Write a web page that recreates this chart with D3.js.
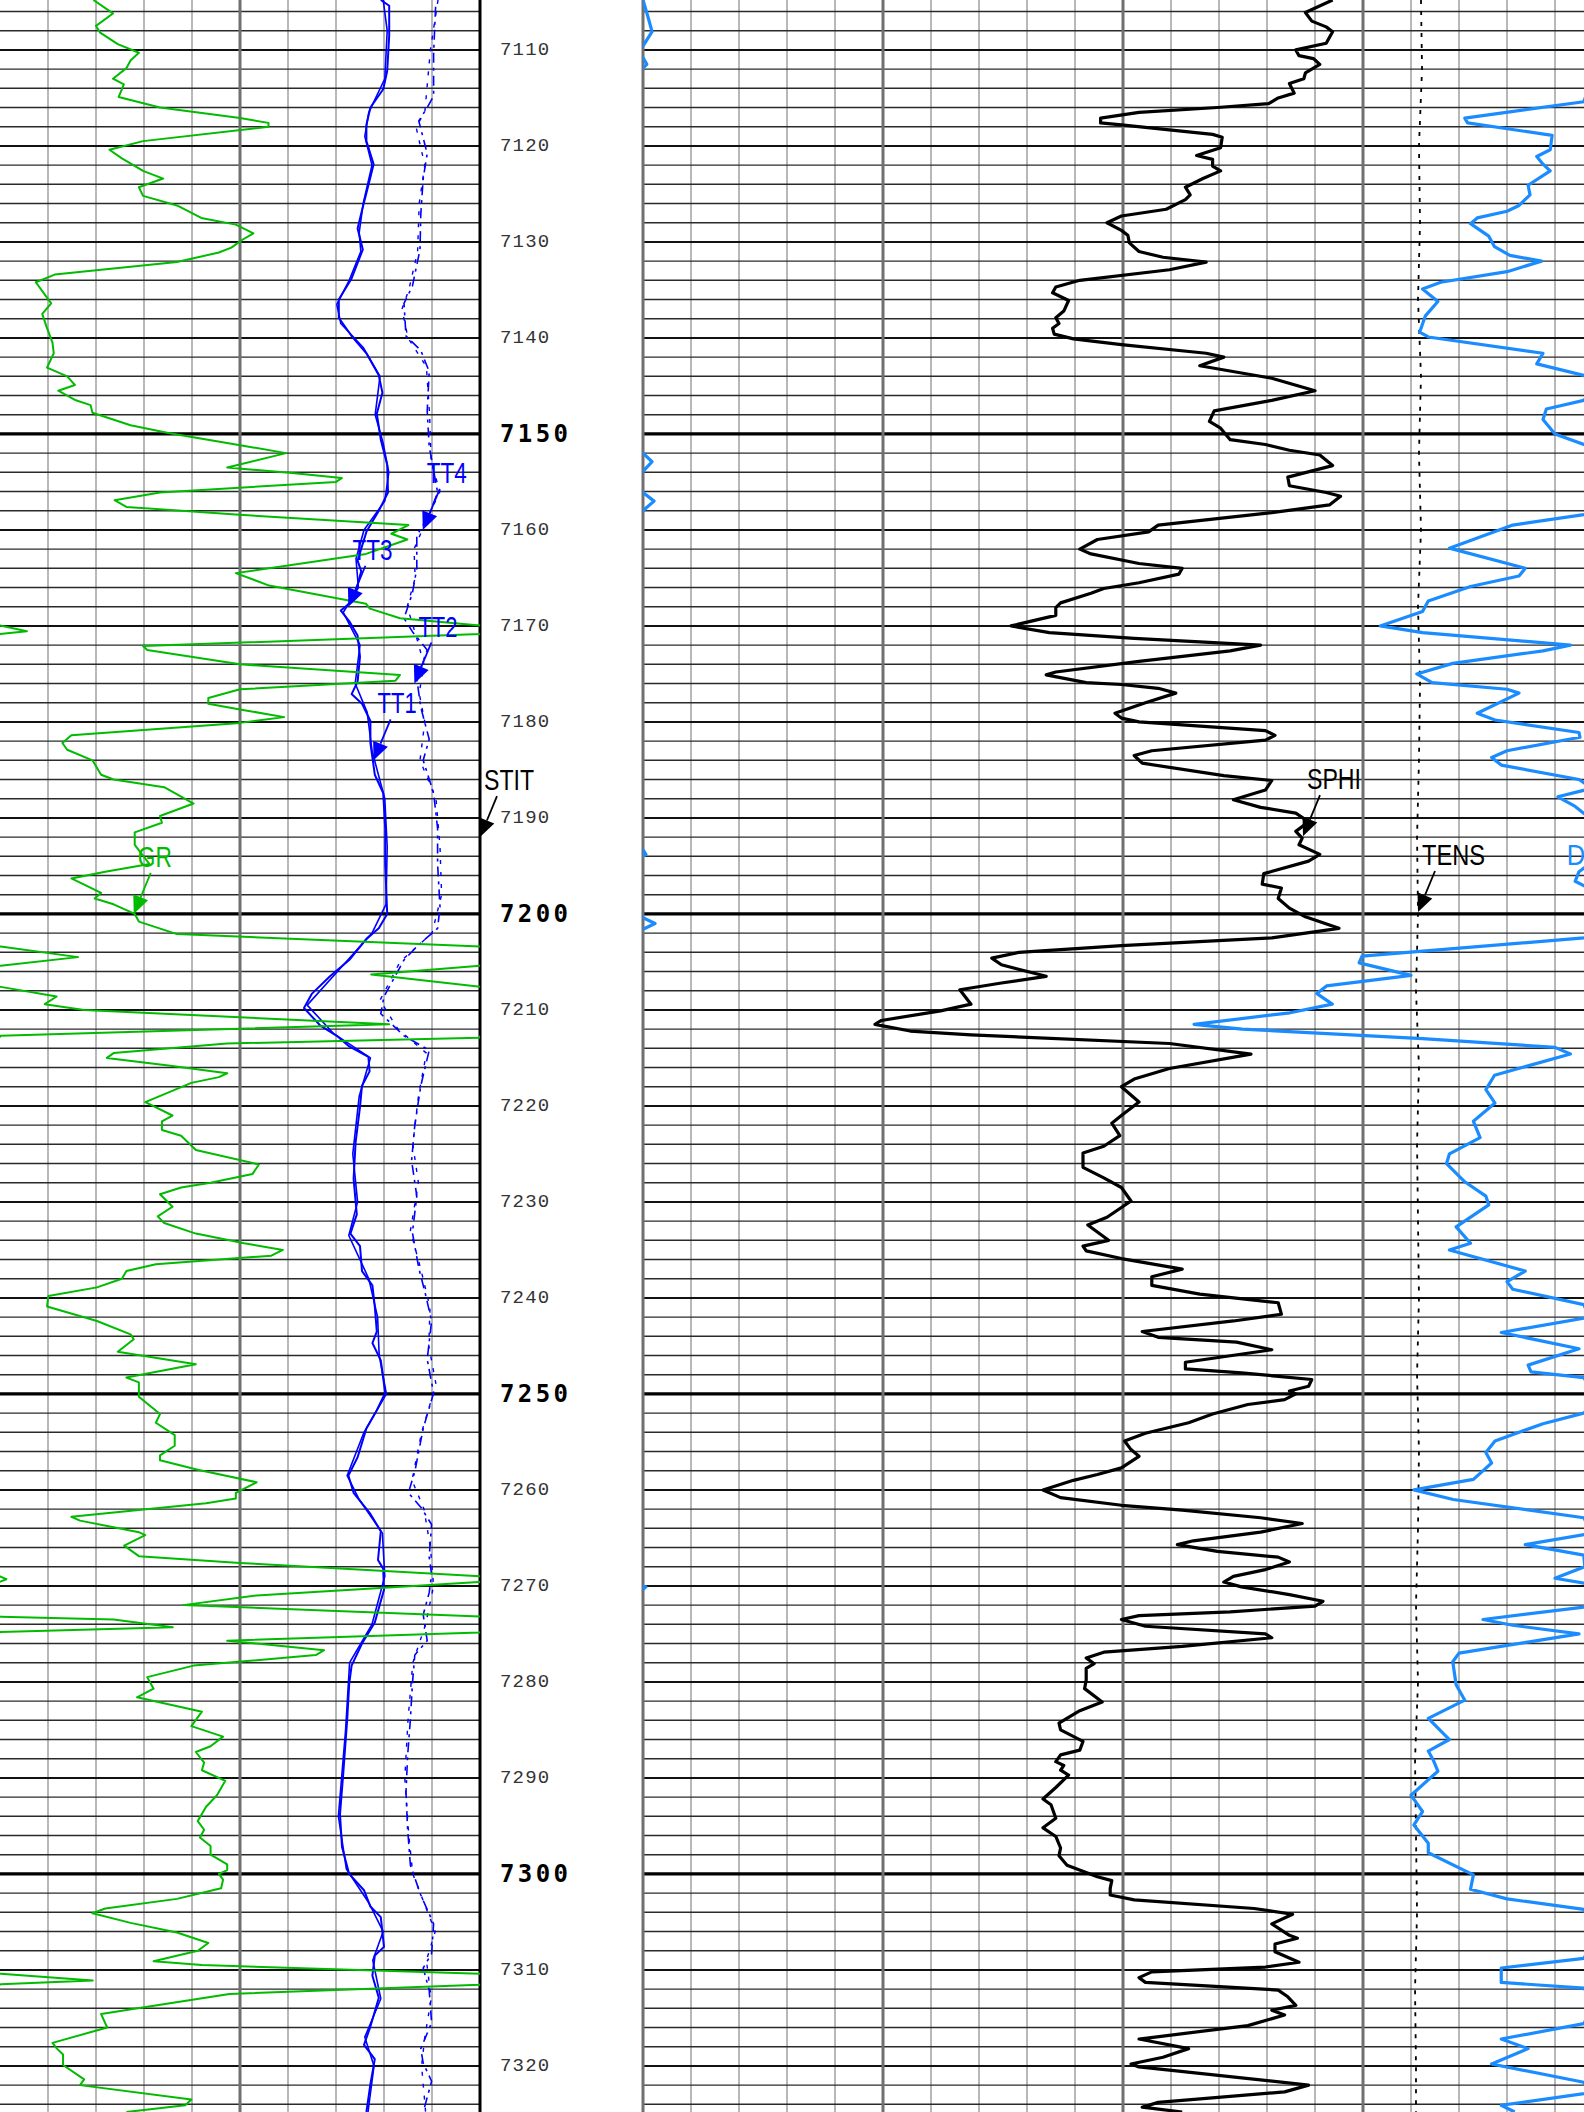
<!DOCTYPE html>
<html>
<head>
<meta charset="utf-8">
<script src="https://cdn.jsdelivr.net/npm/d3@7"></script>
<style>
html,body{margin:0;padding:0;background:#fff;}
svg{display:block;}
</style>
</head>
<body>
<svg id="chart" width="1584" height="2112"></svg>
<script>
// ---------------- DATA ----------------
const DEPTH_RANGE = [7104.8, 7324.8];
const DEPTH_LABELS = d3.range(7110, 7321, 10);

// Gamma ray (API), track 1, scale 0-150 with 150-300 backup
const GR = [[7104.8,29.2],[7106.2,35.3],[7107.5,30.0],[7108.2,31.3],[7109.4,36.8],[7110.3,43.4],[7111.1,40.8],[7111.9,39.5],[7113.0,35.3],[7113.6,38.7],[7114.9,37.1],[7116.0,50.0],[7117.1,75.0],[7117.6,83.9],[7118.0,83.9],[7119.5,44.7],[7120.4,34.2],[7121.3,38.1],[7122.6,44.7],[7123.4,51.0],[7124.3,43.4],[7125.2,44.7],[7126.2,55.3],[7127.5,62.9],[7128.2,73.7],[7129.1,79.2],[7129.8,75.6],[7130.6,72.3],[7131.1,68.4],[7132.1,55.3],[7133.4,17.1],[7134.2,11.2],[7136.4,16.0],[7137.5,13.2],[7138.8,14.5],[7140.5,16.4],[7141.6,16.8],[7143.1,14.7],[7144.0,21.0],[7144.9,23.4],[7145.5,18.2],[7146.5,23.7],[7147.0,28.3],[7147.8,28.9],[7149.1,40.8],[7149.9,52.6],[7151.1,73.7],[7152.0,89.4],[7153.5,71.0],[7154.1,92.1],[7154.6,106.8],[7155.0,105.0],[7156.1,50.0],[7156.9,35.8],[7157.6,39.5],[7158.4,73.7],[7159.5,127.6],[7160.4,122.3],[7161.0,127.3],[7162.5,114.4],[7164.5,73.7],[7165.8,84.1],[7167.7,114.4],[7168.2,115.6],[7169.2,125.0],[7169.95,150.0],[7170.55,158.4],[7170.85,150.0],[7172.1,44.7],[7172.5,46.0],[7174.0,75.0],[7175.1,125.0],[7175.7,123.6],[7176.6,75.0],[7177.5,65.1],[7178.1,65.1],[7178.7,75.0],[7179.5,88.8],[7180.1,75.0],[7181.4,22.3],[7182.2,19.5],[7182.9,21.0],[7184.0,28.9],[7185.5,31.6],[7186.0,35.5],[7186.8,51.3],[7188.5,60.5],[7189.8,50.0],[7190.5,50.6],[7191.5,42.1],[7192.8,42.1],[7194.8,46.7],[7195.6,32.9],[7196.3,22.3],[7197.8,31.6],[7198.4,29.6],[7199.0,35.5],[7200.0,42.1],[7200.8,43.4],[7202.1,55.3],[7203.4,150.2],[7204.5,174.4],[7205.4,150.2],[7206.3,116.0],[7207.6,150.2],[7208.6,167.7],[7209.4,164.0],[7210.0,176.3],[7211.5,271.6],[7212.7,150.2],[7212.9,149.7],[7213.5,70.9],[7214.5,35.5],[7215.0,33.4],[7215.8,52.6],[7216.6,71.0],[7217.0,68.4],[7217.6,59.8],[7219.6,45.4],[7221.0,53.9],[7221.6,50.6],[7222.5,50.6],[7223.1,56.6],[7224.6,61.2],[7226.1,80.9],[7227.1,78.9],[7228.0,65.8],[7228.5,56.6],[7229.2,50.0],[7230.5,53.9],[7231.5,49.3],[7232.2,51.3],[7233.3,61.2],[7234.3,76.3],[7235.0,88.4],[7235.6,84.8],[7236.5,48.7],[7237.2,39.5],[7238.0,38.1],[7238.9,30.3],[7239.8,15.1],[7240.9,14.7],[7242.4,30.3],[7243.8,40.8],[7244.3,41.8],[7245.6,36.8],[7246.9,61.2],[7248.3,39.5],[7248.8,43.4],[7250.3,43.4],[7252.1,50.0],[7253.0,48.7],[7254.3,54.6],[7255.4,54.6],[7256.4,50.0],[7256.9,50.0],[7257.9,61.8],[7259.2,80.2],[7260.3,73.7],[7260.9,73.7],[7261.4,64.4],[7262.8,22.3],[7263.2,25.0],[7264.4,43.4],[7264.7,45.4],[7265.8,38.8],[7266.9,43.4],[7267.6,75.0],[7269.0,150.0],[7269.3,152.0],[7269.6,149.7],[7271.0,80.2],[7272.0,57.2],[7272.6,105.2],[7273.2,150.2],[7273.5,185.5],[7274.3,204.0],[7274.8,150.2],[7274.85,149.8],[7275.7,71.0],[7276.7,101.3],[7277.2,98.7],[7278.3,60.5],[7279.5,46.0],[7280.7,48.0],[7281.6,42.8],[7283.1,63.1],[7284.6,59.8],[7285.7,69.7],[7286.7,65.8],[7287.3,61.2],[7288.4,63.8],[7289.2,63.1],[7290.3,70.4],[7291.8,67.8],[7293.0,64.4],[7294.5,61.8],[7295.4,63.8],[7296.2,62.5],[7297.1,65.8],[7298.0,65.8],[7299.0,71.0],[7299.6,71.0],[7300.0,68.4],[7300.6,69.7],[7301.5,69.1],[7302.6,55.3],[7303.6,32.9],[7304.1,28.9],[7305.1,40.8],[7306.1,55.3],[7307.2,65.1],[7308.0,61.8],[7309.1,48.0],[7309.5,63.1],[7310.4,150.2],[7311.1,179.0],[7311.5,150.2],[7311.55,149.8],[7312.5,71.7],[7313.5,52.6],[7314.6,31.6],[7316.0,33.5],[7317.6,16.4],[7318.2,17.8],[7318.8,19.7],[7319.9,19.7],[7321.4,26.3],[7322.0,25.0],[7323.5,59.8],[7324.1,57.9],[7324.8,39.5]];

// Transit times (us), track 1, scale 0-1200
const TT1 = [[7104.8,952],[7105.4,973],[7108.5,973],[7112.2,968],[7114.1,958],[7116.0,926],[7117.8,916],[7119.5,916],[7121.9,934],[7124.1,921],[7126.7,905],[7128.6,894],[7130.8,907],[7133.8,879],[7136.0,847],[7137.9,847],[7139.8,879],[7141.6,916],[7143.9,947],[7145.7,956],[7147.9,942],[7150.6,952],[7153.2,968],[7156.1,970],[7158.0,947],[7160.2,916],[7163.2,894],[7164.3,903],[7167.3,884],[7168.4,852],[7169.5,873],[7171.0,894],[7173.2,900],[7175.8,894],[7177.1,879],[7178.1,905],[7179.9,926],[7182.2,926],[7185.5,937],[7187.4,958],[7191.1,963],[7194.8,963],[7200.0,968],[7201.5,947],[7202.6,916],[7204.8,873],[7206.5,825],[7208.3,780],[7209.8,760],[7211.6,800],[7212.7,842],[7213.8,873],[7214.9,921],[7216.4,924],[7217.9,905],[7220.1,900],[7223.8,889],[7227.6,884],[7231.3,892],[7233.3,876],[7234.6,900],[7237.2,905],[7238.7,931],[7240.9,937],[7243.5,942],[7244.7,931],[7246.5,952],[7249.9,963],[7251.7,942],[7253.6,916],[7256.6,894],[7258.5,871],[7260.3,884],[7262.5,926],[7264.3,952],[7267.3,945],[7268.2,958],[7270.4,960],[7273.8,937],[7276.0,905],[7278.3,879],[7280.2,873],[7283.9,868],[7289.6,858],[7293.8,850],[7297.2,855],[7300.0,873],[7301.7,910],[7303.4,926],[7304.5,952],[7307.6,960],[7308.5,937],[7310.6,931],[7312.9,947],[7315.9,926],[7317.8,910],[7319.3,937],[7321.9,926],[7324.8,916]];
const TT3 = [[7104.8,958],[7108.0,968],[7113.0,962],[7116.5,922],[7119.0,912],[7122.0,930],[7126.0,908],[7129.0,898],[7131.0,902],[7134.0,873],[7136.5,842],[7138.5,852],[7141.0,908],[7144.0,950],[7148.0,938],[7151.0,958],[7154.0,972],[7157.0,962],[7160.0,910],[7163.0,890],[7166.0,896],[7168.6,858],[7172.0,900],[7176.0,888],[7179.0,918],[7183.0,930],[7188.0,962],[7193.0,968],[7199.0,965],[7202.0,930],[7205.0,865],[7209.5,768],[7212.5,835],[7215.0,926],[7219.0,898],[7225.0,882],[7230.0,894],[7233.5,872],[7238.0,922],[7242.0,944],[7246.0,948],[7250.0,966],[7254.0,910],[7258.5,868],[7261.0,898],[7264.5,956],[7269.0,962],[7274.0,930],[7278.0,874],[7285.0,864],[7294.0,846],[7299.5,866],[7303.0,922],[7306.0,958],[7309.0,932],[7313.0,952],[7317.0,912],[7320.0,935],[7324.8,920]];
const TT2 = [[7105.5,1089],[7110.4,1084],[7114.8,1084],[7116.0,1068],[7117.4,1047],[7120.8,1068],[7123.4,1058],[7127.1,1052],[7130.8,1050],[7134.6,1031],[7136.4,1010],[7139.8,1015],[7141.3,1052],[7143.5,1073],[7147.6,1068],[7151.3,1073],[7156.1,1094],[7158.4,1073],[7160.6,1042],[7164.0,1042],[7166.6,1031],[7169.2,1010],[7170.6,1031],[7172.5,1068],[7175.5,1042],[7178.5,1052],[7181.8,1073],[7184.0,1058],[7187.4,1084],[7191.1,1094],[7194.8,1094],[7199.3,1100],[7201.5,1094],[7203.4,1042],[7204.8,1010],[7208.6,960],[7210.4,952],[7212.7,1010],[7214.2,1073],[7217.9,1052],[7222.0,1037],[7225.7,1029],[7229.4,1042],[7233.2,1031],[7236.9,1047],[7239.5,1063],[7242.4,1079],[7246.4,1068],[7249.9,1084],[7253.6,1058],[7258.1,1037],[7260.3,1021],[7261.8,1052],[7263.6,1079],[7267.0,1073],[7268.8,1079],[7270.7,1073],[7273.0,1058],[7275.7,1068],[7277.2,1037],[7280.2,1031],[7283.9,1026],[7287.7,1019],[7291.5,1015],[7295.3,1019],[7299.1,1026],[7302.2,1052],[7305.2,1084],[7308.3,1079],[7309.8,1058],[7312.1,1073],[7315.5,1079],[7318.2,1052],[7319.7,1058],[7321.6,1079],[7324.8,1058]];
const TT4 = [[7104.8,1095],[7110.0,1076],[7116.5,1062],[7118.0,1040],[7122.0,1062],[7126.0,1048],[7131.0,1044],[7135.0,1022],[7137.0,1005],[7140.0,1020],[7143.0,1066],[7148.0,1074],[7153.0,1078],[7156.0,1100],[7159.0,1066],[7162.0,1035],[7165.0,1038],[7168.0,1018],[7171.0,1040],[7174.0,1060],[7177.0,1048],[7180.0,1062],[7184.0,1050],[7188.0,1090],[7193.0,1100],[7198.0,1104],[7202.0,1080],[7205.0,1000],[7209.0,950],[7212.0,995],[7214.5,1066],[7219.0,1046],[7224.0,1032],[7228.0,1046],[7233.0,1026],[7237.0,1052],[7241.0,1075],[7245.0,1072],[7249.0,1090],[7254.0,1054],[7259.0,1030],[7262.0,1060],[7266.0,1076],[7270.0,1084],[7274.0,1064],[7278.0,1032],[7284.0,1020],[7290.0,1012],[7296.0,1022],[7300.0,1032],[7303.0,1060],[7306.0,1088],[7309.0,1066],[7313.0,1078],[7317.0,1062],[7320.0,1054],[7324.8,1064]];

// Sonic porosity (v/v), track 2, scale 0.45 to -0.15
const SPHI = [[7104.8,0.019],[7106.1,0.036],[7107.0,0.032],[7107.6,0.023],[7108.1,0.019],[7109.3,0.023],[7110.0,0.042],[7110.6,0.040],[7110.9,0.031],[7111.5,0.027],[7112.4,0.036],[7113.0,0.037],[7113.5,0.046],[7114.5,0.043],[7115.0,0.053],[7115.6,0.059],[7116.0,0.091],[7116.5,0.140],[7117.1,0.164],[7117.6,0.164],[7117.8,0.151],[7118.8,0.094],[7119.1,0.088],[7120.2,0.089],[7121.0,0.104],[7121.4,0.094],[7122.1,0.094],[7122.6,0.089],[7123.4,0.100],[7124.3,0.111],[7125.1,0.108],[7125.6,0.111],[7126.6,0.123],[7127.3,0.151],[7128.0,0.160],[7128.8,0.151],[7129.3,0.147],[7130.1,0.146],[7131.0,0.140],[7131.6,0.125],[7132.1,0.098],[7132.9,0.121],[7134.0,0.177],[7134.7,0.192],[7135.3,0.194],[7136.1,0.184],[7137.2,0.187],[7137.9,0.192],[7138.5,0.190],[7139.0,0.194],[7139.6,0.193],[7140.1,0.181],[7140.7,0.151],[7141.6,0.098],[7142.0,0.087],[7142.9,0.102],[7144.2,0.057],[7145.5,0.030],[7146.5,0.057],[7147.6,0.093],[7148.7,0.096],[7149.4,0.089],[7150.6,0.083],[7151.1,0.061],[7151.7,0.046],[7152.2,0.027],[7153.3,0.019],[7154.5,0.047],[7155.4,0.046],[7156.1,0.023],[7156.5,0.014],[7157.4,0.021],[7158.2,0.057],[7159.5,0.128],[7160.2,0.134],[7161.0,0.166],[7162.0,0.177],[7162.5,0.170],[7163.5,0.140],[7164.0,0.113],[7164.6,0.115],[7165.5,0.140],[7166.1,0.162],[7166.6,0.170],[7167.6,0.189],[7168.1,0.192],[7168.9,0.192],[7170.0,0.220],[7170.7,0.196],[7171.3,0.143],[7172.0,0.064],[7172.6,0.083],[7173.7,0.140],[7174.8,0.192],[7175.1,0.198],[7175.9,0.173],[7176.1,0.151],[7176.5,0.128],[7177.0,0.117],[7178.0,0.136],[7179.1,0.155],[7179.6,0.151],[7180.0,0.140],[7180.9,0.061],[7181.4,0.055],[7181.9,0.061],[7183.0,0.132],[7183.5,0.143],[7184.3,0.138],[7185.6,0.087],[7186.1,0.057],[7187.1,0.061],[7188.1,0.081],[7188.9,0.064],[7189.5,0.042],[7190.4,0.034],[7191.4,0.042],[7192.1,0.038],[7192.8,0.040],[7193.8,0.027],[7194.5,0.034],[7195.8,0.062],[7196.9,0.063],[7197.3,0.051],[7198.4,0.053],[7199.4,0.046],[7200.3,0.036],[7201.5,0.015],[7202.5,0.057],[7203.3,0.151],[7204.0,0.215],[7204.6,0.232],[7205.3,0.226],[7206.5,0.198],[7207.2,0.226],[7207.9,0.252],[7209.4,0.245],[7210.1,0.264],[7211.1,0.301],[7211.5,0.305],[7212.2,0.283],[7212.6,0.245],[7213.5,0.121],[7214.6,0.070],[7216.1,0.121],[7217.2,0.143],[7218.0,0.151],[7219.6,0.140],[7221.0,0.151],[7221.8,0.157],[7223.1,0.152],[7224.2,0.162],[7224.9,0.175],[7226.4,0.175],[7227.5,0.162],[7228.5,0.151],[7229.9,0.145],[7231.6,0.160],[7232.4,0.172],[7234.0,0.159],[7234.6,0.175],[7235.1,0.173],[7235.9,0.151],[7237.0,0.113],[7237.8,0.132],[7238.7,0.132],[7239.6,0.102],[7240.5,0.053],[7241.7,0.051],[7242.4,0.081],[7243.5,0.138],[7244.1,0.128],[7244.6,0.079],[7245.4,0.057],[7246.7,0.111],[7247.4,0.111],[7247.8,0.076],[7248.5,0.032],[7249.2,0.034],[7249.7,0.046],[7250.0,0.042],[7250.6,0.049],[7251.1,0.072],[7252.1,0.094],[7253.0,0.109],[7254.1,0.136],[7254.9,0.149],[7255.8,0.145],[7256.5,0.140],[7257.7,0.151],[7258.4,0.166],[7259.0,0.181],[7260.0,0.200],[7260.8,0.189],[7261.6,0.151],[7262.1,0.113],[7262.9,0.064],[7263.5,0.038],[7264.4,0.064],[7265.3,0.106],[7265.7,0.116],[7266.4,0.091],[7267.0,0.053],[7267.5,0.046],[7268.3,0.061],[7269.0,0.081],[7269.6,0.087],[7270.1,0.076],[7270.9,0.046],[7271.6,0.025],[7272.1,0.030],[7272.7,0.083],[7273.1,0.140],[7273.5,0.151],[7274.2,0.136],[7275.0,0.061],[7275.4,0.057],[7276.3,0.113],[7276.9,0.162],[7277.5,0.173],[7278.1,0.168],[7278.6,0.173],[7279.8,0.173],[7280.7,0.174],[7282.1,0.163],[7283.0,0.177],[7284.3,0.190],[7285.0,0.189],[7286.2,0.175],[7287.1,0.177],[7287.6,0.189],[7288.3,0.192],[7288.7,0.187],[7289.2,0.189],[7289.7,0.184],[7291.0,0.192],[7292.2,0.200],[7292.8,0.195],[7294.2,0.192],[7295.2,0.200],[7296.1,0.192],[7297.3,0.189],[7298.1,0.190],[7299.1,0.185],[7300.3,0.166],[7300.7,0.157],[7301.5,0.158],[7302.2,0.158],[7302.7,0.143],[7303.6,0.068],[7304.2,0.044],[7305.2,0.057],[7306.4,0.046],[7306.7,0.041],[7307.3,0.055],[7308.1,0.055],[7309.2,0.040],[7309.7,0.061],[7310.2,0.132],[7310.8,0.140],[7311.3,0.136],[7312.1,0.053],[7312.8,0.047],[7313.7,0.042],[7314.2,0.057],[7314.7,0.049],[7315.8,0.072],[7317.2,0.140],[7318.2,0.109],[7319.1,0.125],[7319.8,0.145],[7320.1,0.140],[7322.0,0.034],[7322.7,0.049],[7323.8,0.128],[7324.3,0.138],[7324.8,0.113]];

// Sonic DT (us/ft), track 2, scale 140-40 with backup
const DT = [[7104.8,40.0],[7106.5,39.5],[7108.1,39.06],[7109.6,40.0],[7110.2,40.8],[7110.8,40.0],[7111.5,39.6],[7111.9,40.0],[7113.0,41.15],[7115.4,42.0],[7117.1,54.4],[7117.6,54.1],[7118.9,45.3],[7120.4,45.5],[7121.1,46.9],[7121.9,46.25],[7122.6,45.5],[7124.1,47.8],[7125.1,47.6],[7126.2,48.75],[7126.8,50.0],[7127.5,53.1],[7128.1,53.8],[7129.4,51.9],[7130.5,51.3],[7131.4,49.7],[7132.0,46.4],[7133.1,50.0],[7134.2,56.9],[7134.9,58.8],[7136.2,57.2],[7137.7,58.5],[7139.4,59.1],[7139.9,58.2],[7141.6,46.25],[7142.7,46.9],[7143.9,42.0],[7145.0,40.7],[7146.5,42.0],[7147.4,45.9],[7148.5,46.25],[7150.0,45.0],[7151.1,42.0],[7152.0,40.0],[7152.9,39.06],[7153.9,40.0],[7155.0,40.8],[7156.1,40.0],[7157.0,38.85],[7158.0,40.0],[7158.4,42.0],[7159.5,49.4],[7161.9,56.0],[7164.0,48.1],[7164.8,48.75],[7165.9,53.8],[7167.4,58.2],[7168.5,58.8],[7170.0,63.2],[7170.7,58.8],[7172.0,43.4],[7172.6,46.25],[7173.9,55.65],[7175.0,59.4],[7175.9,57.8],[7176.6,50.0],[7177.0,48.75],[7179.1,53.1],[7179.8,51.25],[7181.1,42.5],[7181.6,42.4],[7183.0,50.0],[7183.7,51.6],[7184.5,50.6],[7186.0,42.5],[7186.9,41.1],[7187.8,44.7],[7188.8,42.9],[7190.5,40.8],[7192.5,40.5],[7193.8,39.7],[7194.8,41.4],[7195.6,42.5],[7196.6,42.9],[7197.5,41.1],[7199.5,40.3],[7200.4,40.0],[7201.0,38.75],[7201.6,40.0],[7202.5,42.0],[7204.4,65.1],[7205.1,65.4],[7206.4,60.0],[7207.5,68.8],[7208.3,69.8],[7209.4,68.2],[7210.3,72.6],[7211.5,82.6],[7212.0,77.6],[7213.0,58.8],[7213.9,45.0],[7214.6,43.4],[7216.8,51.3],[7218.3,52.2],[7219.7,51.25],[7221.6,53.5],[7223.3,52.8],[7225.0,56.0],[7226.0,56.3],[7227.9,54.4],[7229.4,52.2],[7230.3,51.9],[7232.6,55.3],[7234.3,53.8],[7235.0,56.0],[7237.2,48.1],[7238.3,50.0],[7239.1,49.4],[7240.7,42.0],[7242.0,41.4],[7243.6,50.6],[7245.3,42.5],[7247.0,47.8],[7247.7,47.5],[7248.3,42.0],[7250.5,40.7],[7252.0,42.0],[7253.1,46.25],[7254.9,51.25],[7256.1,52.2],[7257.2,51.6],[7258.9,53.5],[7260.0,59.7],[7261.0,55.6],[7262.9,42.0],[7264.5,41.1],[7265.7,48.1],[7266.8,42.0],[7268.0,41.9],[7269.2,45.0],[7270.1,39.7],[7271.0,40.7],[7272.2,42.0],[7273.5,52.5],[7274.1,49.4],[7275.0,42.5],[7275.8,47.5],[7277.0,55.0],[7277.9,55.65],[7280.3,55.3],[7281.9,54.4],[7283.8,58.2],[7286.0,56.0],[7287.2,58.2],[7288.1,57.7],[7289.3,57.2],[7291.8,60.0],[7293.5,58.8],[7294.9,59.7],[7296.8,58.2],[7297.8,58.2],[7300.1,53.5],[7301.6,53.8],[7302.6,50.0],[7303.7,42.0],[7306.5,40.6],[7308.8,42.0],[7309.8,50.6],[7311.3,50.6],[7311.9,42.0],[7313.5,40.8],[7315.6,42.0],[7317.2,50.6],[7318.2,47.8],[7319.8,51.6],[7321.7,42.0],[7322.8,41.4],[7324.1,50.6],[7324.8,49.2]];

// Cable tension (lbf), track 2, scale 0-10000
const TENS = [[7104.8,8104],[7112,8115],[7120,8083],[7128,8094],[7136,8073],[7144,8104],[7152,8083],[7160,8104],[7168,8073],[7176,8094],[7184,8083],[7192,8063],[7200,8073],[7208,8052],[7216,8083],[7224,8063],[7232,8073],[7240,8083],[7248,8063],[7256,8083],[7264,8073],[7272,8052],[7280,8073],[7288,8042],[7296,8052],[7304,8063],[7312,8042],[7320,8052],[7324.8,8052]];

// Curve labels: name, curve, depth of arrow tip, value at tip
const LABELS = [
  {text:"TT4", scale:"TT", depth:7160.0, value:1057, color:"#0000ff", w:40, tdx:4},
  {text:"TT3", scale:"TT", depth:7168.0, value:871, color:"#0000ff", w:40, tdx:4},
  {text:"TT2", scale:"TT", depth:7176.0, value:1036, color:"#0000ff", w:39, tdx:4},
  {text:"TT1", scale:"TT", depth:7184.0, value:934, color:"#0000ff", w:39, tdx:4},
  {text:"GR", scale:"GR", depth:7200.0, value:41.8, color:"#00bb00", w:34, tdx:4},
  {text:"STIT", scale:"EDGE", depth:7192.0, value:0, color:"#000", w:50, tdx:4},
  {text:"SPHI", scale:"SPHI", depth:7191.9, value:0.0375, color:"#000", w:54, tdx:4},
  {text:"TENS", scale:"TENS", depth:7199.8, value:8073, color:"#000", w:63, tdx:4},
  {text:"DT", scale:"DT", depth:7199.8, value:39.5, color:"#1a8cff", w:34, tdx:-41}
];

// ---------------- LAYOUT ----------------
const W = 1584, H = 2112;
const T1 = [0, 480];
const T2 = [643, 1603];
const svg = d3.select("#chart");

const y = d3.scaleLinear().domain(DEPTH_RANGE).range([0, H]);
const xGR = d3.scaleLinear().domain([0,150]).range(T1);
const xGRb = d3.scaleLinear().domain([150,300]).range(T1);
const xTT = d3.scaleLinear().domain([0,1200]).range(T1);
const xSPHI = d3.scaleLinear().domain([0.45,-0.15]).range(T2);
const xDT = d3.scaleLinear().domain([140,40]).range(T2);
const xDTb = d3.scaleLinear().domain([40,-60]).range(T2);
const xTENS = d3.scaleLinear().domain([0,10000]).range(T2);
const scales = {GR:xGR, TT:xTT, SPHI:xSPHI, DT:xDT, TENS:xTENS, EDGE:()=>T1[1]};

const defs = svg.append("defs");
defs.append("clipPath").attr("id","c1").append("rect").attr("x",T1[0]).attr("y",0).attr("width",T1[1]-T1[0]).attr("height",H);
defs.append("clipPath").attr("id","c2").append("rect").attr("x",T2[0]).attr("y",0).attr("width",T2[1]-T2[0]).attr("height",H);

svg.append("rect").attr("width",W).attr("height",H).attr("fill","#fff");

// grid
const grid = svg.append("g");
function vlines(track){
  const n = (track[1]-track[0])/48;
  return d3.range(0, n+1).map(i => track[0] + i*(track[1]-track[0])/n);
}
const x1s = vlines(T1), x2s = vlines(T2);
x1s.forEach((x,i)=>{ if(i%5!==0) grid.append("line").attr("x1",x).attr("x2",x).attr("y1",0).attr("y2",H).attr("stroke","#a0a0a0").attr("stroke-width",1.5); });
x2s.forEach((x,i)=>{ if(i%5!==0 && x<W) grid.append("line").attr("x1",x).attr("x2",x).attr("y1",0).attr("y2",H).attr("stroke","#a0a0a0").attr("stroke-width",1.5); });
const hdepths = d3.range(7106, 7325, 2);
hdepths.forEach(d=>{
  const major50 = d%50===0, major10 = d%10===0;
  const sw = major50 ? 3.4 : (major10 ? 2.0 : 1.4);
  const col = major50 ? "#000" : (major10 ? "#111" : "#2a2a2a");
  [[T1[0],T1[1]],[T2[0],W]].forEach(r=>{
    grid.append("line").attr("x1",r[0]).attr("x2",r[1]).attr("y1",y(d)).attr("y2",y(d)).attr("stroke",col).attr("stroke-width",sw);
  });
});
x1s.forEach((x,i)=>{ if(i%5===0 && i>0 && x<T1[1]) grid.append("line").attr("x1",x).attr("x2",x).attr("y1",0).attr("y2",H).attr("stroke","#707070").attr("stroke-width",3); });
x2s.forEach((x,i)=>{ if(i%5===0 && x<W) grid.append("line").attr("x1",x).attr("x2",x).attr("y1",0).attr("y2",H).attr("stroke","#707070").attr("stroke-width",3); });
grid.append("line").attr("x1",T1[1]).attr("x2",T1[1]).attr("y1",0).attr("y2",H).attr("stroke","#000").attr("stroke-width",3);

// depth labels
const dl = svg.append("g");
DEPTH_LABELS.forEach(d=>{
  const bold = d%50===0;
  dl.append("text").attr("x",500).attr("y",y(d)).attr("dominant-baseline","central")
    .attr("font-family", bold ? "'DejaVu Sans Mono', monospace" : "'Liberation Mono', 'DejaVu Sans Mono', monospace")
    .attr("font-weight", bold ? "bold" : "normal")
    .attr("font-size", bold ? 24 : 19)
    .attr("letter-spacing", bold ? 3.4 : 1.2)
    .attr("fill", bold ? "#000" : "#333")
    .text(d);
});

// curves
function curve(data, xs, clip, color, width, dash){
  const line = d3.line().x(p=>xs(p[1])).y(p=>y(p[0]));
  const p = svg.append("path").datum(data).attr("d",line).attr("fill","none")
    .attr("stroke",color).attr("stroke-width",width).attr("stroke-linejoin","round")
    .attr("clip-path",`url(#${clip})`);
  if(dash) p.attr("stroke-dasharray",dash);
  return p;
}
curve(TENS, xTENS, "c2", "#000", 1.8, "4,7");
curve(DT, xDT, "c2", "#1a8cff", 3.2);
curve(DT, xDTb, "c2", "#1a8cff", 3.2);
curve(SPHI, xSPHI, "c2", "#000", 3.2);
curve(TT2, xTT, "c1", "#0000ff", 1.6, "10,5,3,5");
curve(TT4, xTT, "c1", "#0000ff", 1.4, "4,8");
curve(TT3, xTT, "c1", "#0000ff", 1.6);
curve(TT1, xTT, "c1", "#0000ff", 2.0);
curve(GR, xGR, "c1", "#00bb00", 2.0);
curve(GR, xGRb, "c1", "#00bb00", 2.0);

// labels with arrows
const lg = svg.append("g");
LABELS.forEach(L=>{
  const tx = scales[L.scale](L.value), ty = y(L.depth);
  const sx = tx + 17, sy = ty - 41;
  const dx = tx - sx, dy = ty - sy, len = Math.hypot(dx,dy);
  const ux = dx/len, uy = dy/len;
  const bx = tx - ux*18, by = ty - uy*18;
  const px = -uy, py = ux;
  lg.append("line").attr("x1",sx).attr("y1",sy).attr("x2",bx).attr("y2",by).attr("stroke",L.color).attr("stroke-width",1.8);
  lg.append("path").attr("d",`M${tx},${ty}L${bx+px*8},${by+py*8}L${bx-px*8},${by-py*8}Z`).attr("fill",L.color);
  lg.append("text").attr("x",tx+L.tdx).attr("y",ty-47)
    .attr("font-family","'Liberation Sans Narrow','Liberation Sans',Arial,sans-serif")
    .attr("font-size",30).attr("fill",L.color)
    .attr("textLength",L.w).attr("lengthAdjust","spacingAndGlyphs")
    .text(L.text);
});
</script>
</body>
</html>
